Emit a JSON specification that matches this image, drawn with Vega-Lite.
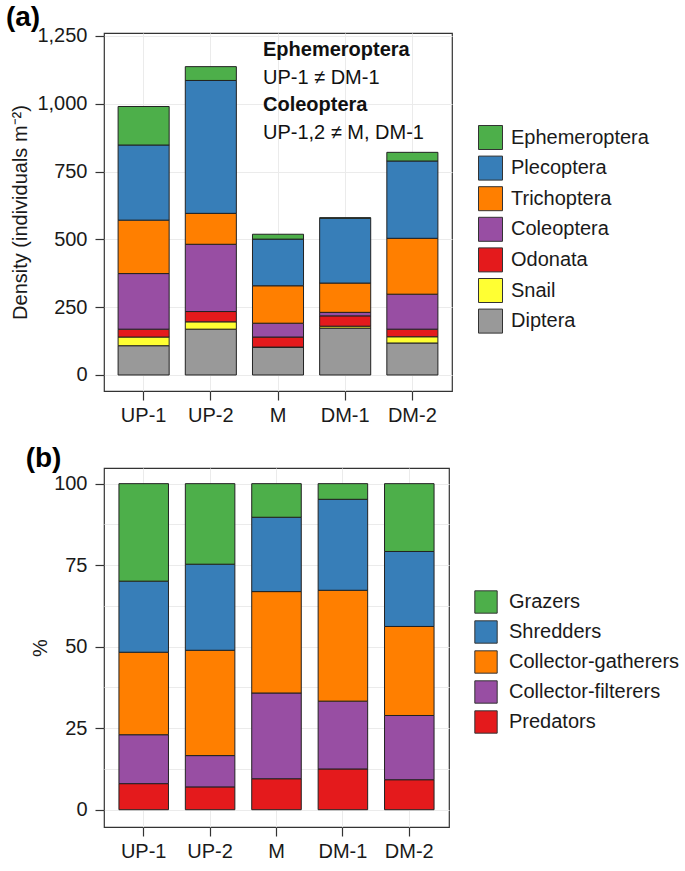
{
  "$schema": "https://vega.github.io/schema/vega-lite/v6.json",
  "padding": {"left": 5, "top": 3, "right": 0, "bottom": 0},
  "background": "white",
  "config": {
    "font": "Liberation Sans",
    "view": {"stroke": "#333333", "strokeWidth": 1.2},
    "axis": {
      "domain": false,
      "tickColor": "#333333",
      "tickSize": 9,
      "tickWidth": 1.2,
      "labelFontSize": 20,
      "labelColor": "#1a1a1a",
      "titleFontSize": 20,
      "titleFontWeight": "normal",
      "titleColor": "#1a1a1a",
      "gridColor": "#ebebeb",
      "gridWidth": 1,
      "labelOverlap": false
    },
    "legend": {
      "orient": "none",
      "title": null,
      "symbolType": "square",
      "symbolStrokeColor": "#333333",
      "symbolStrokeWidth": 1,
      "symbolOpacity": 1,
      "labelFontSize": 20,
      "labelColor": "#1a1a1a",
      "labelLimit": 400,
      "padding": 0
    }
  },
  "spacing": 18,
  "resolve": {"scale": {"color": "independent"}},
  "vconcat": [
    {
      "width": 348,
      "height": 358,
      "title": {"text": "(a)", "anchor": "start", "frame": "bounds", "fontSize": 28, "fontWeight": "bold", "color": "black", "offset": -6, "dx": -5},
      "layer": [
        {
          "data": {"values": [
            {"site": "UP-1", "taxon": "Diptera", "density": 108},
            {"site": "UP-1", "taxon": "Snail", "density": 32},
            {"site": "UP-1", "taxon": "Odonata", "density": 29},
            {"site": "UP-1", "taxon": "Coleoptera", "density": 205},
            {"site": "UP-1", "taxon": "Trichoptera", "density": 197},
            {"site": "UP-1", "taxon": "Plecoptera", "density": 277},
            {"site": "UP-1", "taxon": "Ephemeroptera", "density": 142},
            {"site": "UP-2", "taxon": "Diptera", "density": 169},
            {"site": "UP-2", "taxon": "Snail", "density": 27},
            {"site": "UP-2", "taxon": "Odonata", "density": 38},
            {"site": "UP-2", "taxon": "Coleoptera", "density": 248},
            {"site": "UP-2", "taxon": "Trichoptera", "density": 114},
            {"site": "UP-2", "taxon": "Plecoptera", "density": 490},
            {"site": "UP-2", "taxon": "Ephemeroptera", "density": 51},
            {"site": "M", "taxon": "Diptera", "density": 103},
            {"site": "M", "taxon": "Snail", "density": 0},
            {"site": "M", "taxon": "Odonata", "density": 37},
            {"site": "M", "taxon": "Coleoptera", "density": 51},
            {"site": "M", "taxon": "Trichoptera", "density": 138},
            {"site": "M", "taxon": "Plecoptera", "density": 172},
            {"site": "M", "taxon": "Ephemeroptera", "density": 18},
            {"site": "DM-1", "taxon": "Diptera", "density": 173},
            {"site": "DM-1", "taxon": "Snail", "density": 7},
            {"site": "DM-1", "taxon": "Odonata", "density": 38},
            {"site": "DM-1", "taxon": "Coleoptera", "density": 13},
            {"site": "DM-1", "taxon": "Trichoptera", "density": 108},
            {"site": "DM-1", "taxon": "Plecoptera", "density": 239},
            {"site": "DM-1", "taxon": "Ephemeroptera", "density": 2},
            {"site": "DM-2", "taxon": "Diptera", "density": 118},
            {"site": "DM-2", "taxon": "Snail", "density": 23},
            {"site": "DM-2", "taxon": "Odonata", "density": 28},
            {"site": "DM-2", "taxon": "Coleoptera", "density": 129},
            {"site": "DM-2", "taxon": "Trichoptera", "density": 206},
            {"site": "DM-2", "taxon": "Plecoptera", "density": 285},
            {"site": "DM-2", "taxon": "Ephemeroptera", "density": 32}
          ]},
          "transform": [
            {"calculate": "indexof(['Diptera', 'Snail', 'Odonata', 'Coleoptera', 'Trichoptera', 'Plecoptera', 'Ephemeroptera'], datum.taxon)", "as": "stackOrder"}
          ],
          "mark": {"type": "bar", "stroke": "#222222", "strokeWidth": 1},
          "encoding": {
            "x": {
              "field": "site", "type": "nominal",
              "sort": ["UP-1", "UP-2", "M", "DM-1", "DM-2"],
              "scale": {"domain": ["UP-1", "UP-2", "M", "DM-1", "DM-2"], "paddingInner": 0.24, "paddingOuter": 0.21},
              "axis": {"title": null, "labelAngle": 0, "labelPadding": 5, "bandPosition": 0.5, "grid": true}
            },
            "y": {
              "field": "density", "type": "quantitative", "stack": "zero",
              "scale": {"domain": [-59, 1261], "nice": false, "zero": false},
              "axis": {
                "title": "Density (individuals m⁻²)",
                "values": [0, 125, 250, 375, 500, 625, 750, 875, 1000, 1125, 1250],
                "labelExpr": "datum.value % 250 == 0 ? format(datum.value, ',') : ''",
                "tickOpacity": {"condition": {"test": "datum.value % 250 != 0", "value": 0}, "value": 1},
                "labelPadding": 8,
                "titlePadding": 6,
                "grid": true
              }
            },
            "order": {"field": "stackOrder", "type": "quantitative", "sort": "ascending"},
            "color": {
              "field": "taxon", "type": "nominal",
              "scale": {
                "domain": ["Diptera", "Snail", "Odonata", "Coleoptera", "Trichoptera", "Plecoptera", "Ephemeroptera"],
                "range": ["#999999", "#FFFF33", "#E41A1C", "#984EA3", "#FF7F00", "#377EB8", "#4DAF4A"]
              },
              "legend": {
                "values": ["Ephemeroptera", "Plecoptera", "Trichoptera", "Coleoptera", "Odonata", "Snail", "Diptera"],
                "legendX": 374, "legendY": 92,
                "symbolSize": 576, "rowPadding": 1.6, "labelOffset": 8
              }
            }
          }
        },
        {
          "data": {"values": [
            {"site": "M", "note": "Ephemeroptera", "pos": 1175},
            {"site": "M", "note": "Coleoptera", "pos": 972}
          ]},
          "mark": {"type": "text", "align": "left", "baseline": "alphabetic", "dx": -15, "fontSize": 20, "fontWeight": "bold", "color": "#111111"},
          "encoding": {
            "x": {"field": "site", "type": "nominal"},
            "y": {"field": "pos", "type": "quantitative"},
            "text": {"field": "note"}
          }
        },
        {
          "data": {"values": [
            {"site": "M", "note": "UP-1 ≠ DM-1", "pos": 1073},
            {"site": "M", "note": "UP-1,2 ≠ M, DM-1", "pos": 871}
          ]},
          "mark": {"type": "text", "align": "left", "baseline": "alphabetic", "dx": -15, "fontSize": 20, "color": "#111111"},
          "encoding": {
            "x": {"field": "site", "type": "nominal"},
            "y": {"field": "pos", "type": "quantitative"},
            "text": {"field": "note"}
          }
        }
      ]
    },
    {
      "width": 345,
      "height": 359,
      "title": {"text": "(b)", "anchor": "start", "frame": "bounds", "fontSize": 28, "fontWeight": "bold", "color": "black", "offset": -5, "dx": -5},
      "data": {"values": [
        {"site": "UP-1", "group": "Predators", "pct": 8.0},
        {"site": "UP-1", "group": "Collector-filterers", "pct": 15.0},
        {"site": "UP-1", "group": "Collector-gatherers", "pct": 25.3},
        {"site": "UP-1", "group": "Shredders", "pct": 21.8},
        {"site": "UP-1", "group": "Grazers", "pct": 29.9},
        {"site": "UP-2", "group": "Predators", "pct": 7.0},
        {"site": "UP-2", "group": "Collector-filterers", "pct": 9.6},
        {"site": "UP-2", "group": "Collector-gatherers", "pct": 32.3},
        {"site": "UP-2", "group": "Shredders", "pct": 26.4},
        {"site": "UP-2", "group": "Grazers", "pct": 24.7},
        {"site": "M", "group": "Predators", "pct": 9.5},
        {"site": "M", "group": "Collector-filterers", "pct": 26.3},
        {"site": "M", "group": "Collector-gatherers", "pct": 31.1},
        {"site": "M", "group": "Shredders", "pct": 22.8},
        {"site": "M", "group": "Grazers", "pct": 10.3},
        {"site": "DM-1", "group": "Predators", "pct": 12.5},
        {"site": "DM-1", "group": "Collector-filterers", "pct": 20.8},
        {"site": "DM-1", "group": "Collector-gatherers", "pct": 34.0},
        {"site": "DM-1", "group": "Shredders", "pct": 27.9},
        {"site": "DM-1", "group": "Grazers", "pct": 4.8},
        {"site": "DM-2", "group": "Predators", "pct": 9.2},
        {"site": "DM-2", "group": "Collector-filterers", "pct": 19.7},
        {"site": "DM-2", "group": "Collector-gatherers", "pct": 27.3},
        {"site": "DM-2", "group": "Shredders", "pct": 23.0},
        {"site": "DM-2", "group": "Grazers", "pct": 20.8}
      ]},
      "transform": [
        {"calculate": "indexof(['Predators', 'Collector-filterers', 'Collector-gatherers', 'Shredders', 'Grazers'], datum.group)", "as": "stackOrder"}
      ],
      "mark": {"type": "bar", "stroke": "#222222", "strokeWidth": 1},
      "encoding": {
        "x": {
          "field": "site", "type": "nominal",
          "sort": ["UP-1", "UP-2", "M", "DM-1", "DM-2"],
          "scale": {"domain": ["UP-1", "UP-2", "M", "DM-1", "DM-2"], "paddingInner": 0.254, "paddingOuter": 0.225},
          "axis": {"title": null, "labelAngle": 0, "labelPadding": 5, "bandPosition": 0.5, "grid": true}
        },
        "y": {
          "field": "pct", "type": "quantitative", "stack": "zero",
          "scale": {"domain": [-5.3, 104.8], "nice": false, "zero": false},
          "axis": {
            "title": "%",
            "values": [0, 12.5, 25, 37.5, 50, 62.5, 75, 87.5, 100],
            "labelExpr": "datum.value % 25 == 0 ? format(datum.value, 'd') : ''",
            "tickOpacity": {"condition": {"test": "datum.value % 25 != 0", "value": 0}, "value": 1},
            "labelPadding": 8,
            "titlePadding": 3,
            "grid": true
          }
        },
        "order": {"field": "stackOrder", "type": "quantitative", "sort": "ascending"},
        "color": {
          "field": "group", "type": "nominal",
          "scale": {
            "domain": ["Predators", "Collector-filterers", "Collector-gatherers", "Shredders", "Grazers"],
            "range": ["#E41A1C", "#984EA3", "#FF7F00", "#377EB8", "#4DAF4A"]
          },
          "legend": {
            "values": ["Grazers", "Shredders", "Collector-gatherers", "Collector-filterers", "Predators"],
            "legendX": 370, "legendY": 122,
            "symbolSize": 500, "rowPadding": 2, "labelOffset": 11
          }
        }
      }
    }
  ]
}
